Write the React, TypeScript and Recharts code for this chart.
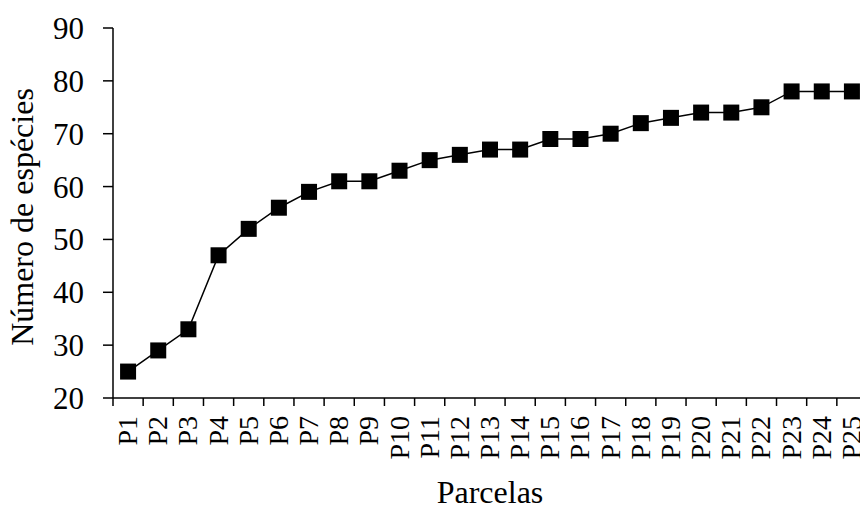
import { LineChart, Line, XAxis, YAxis } from 'recharts';

// Curva espécie-área: número acumulado de espécies por parcela
const parcelas = [
  'P1', 'P2', 'P3', 'P4', 'P5', 'P6', 'P7', 'P8', 'P9', 'P10',
  'P11', 'P12', 'P13', 'P14', 'P15', 'P16', 'P17', 'P18', 'P19', 'P20',
  'P21', 'P22', 'P23', 'P24', 'P25',
];
const especies = [
  25, 29, 33, 47, 52, 56, 59, 61, 61, 63,
  65, 66, 67, 67, 69, 69, 70, 72, 73, 74,
  74, 75, 78, 78, 78,
];
const yTicks = [20, 30, 40, 50, 60, 70, 80, 90];

const data = parcelas.map((p, i) => ({ parcela: p, especies: especies[i] }));

const FONT = '"Liberation Serif", "Times New Roman", serif';
const CHART_W = 867;
const CHART_H = 507;
const Y_AXIS_W = 113;
const BAND = (CHART_W - Y_AXIS_W) / parcelas.length;

// Excel-style ticks: marks between categories, labels rotated
function ParcelaTick(props: any) {
  const { x, y, payload, index } = props;
  const half = BAND / 2;
  const bx = x + 9;
  const ty = y + 18;
  return (
    <g>
      <line x1={x - half} x2={x - half} y1={y} y2={y + 8} stroke="#000" strokeWidth={1.5} />
      {index === parcelas.length - 1 && (
        <line x1={x + half} x2={x + half} y1={y} y2={y + 8} stroke="#000" strokeWidth={1.5} />
      )}
      <text
        x={bx}
        y={ty}
        transform={`rotate(-90, ${bx}, ${ty})`}
        textAnchor="end"
        fontFamily={FONT}
        fontSize={28}
        fill="#000"
      >
        {payload.value}
      </text>
    </g>
  );
}

function SquareDot(props: any) {
  const { cx, cy, index } = props;
  if (cx == null || cy == null) return null;
  return <rect key={`sq-${index}`} x={cx - 8} y={cy - 8} width={16} height={16} fill="#000" />;
}

export default function App() {
  return (
    <div style={{ position: 'absolute', left: 0, top: 0, width: 860, height: 507, overflow: 'hidden', background: '#fff' }}>
      <LineChart
        width={CHART_W}
        height={CHART_H}
        data={data}
        margin={{ top: 28, right: 0, bottom: 0, left: 0 }}
      >
        <XAxis
          dataKey="parcela"
          scale="band"
          interval={0}
          height={109}
          tickSize={0}
          tickMargin={0}
          tickLine={false}
          axisLine={{ stroke: '#000', strokeWidth: 1.5 }}
          tick={<ParcelaTick />}
          label={{
            content: (p: any) => {
              const vb = p.viewBox;
              return (
                <text
                  x={vb.x + vb.width / 2}
                  y={503}
                  textAnchor="middle"
                  fontFamily={FONT}
                  fontSize={32}
                  fill="#000"
                >
                  Parcelas
                </text>
              );
            },
          }}
        />
        <YAxis
          domain={[20, 90]}
          ticks={yTicks}
          width={Y_AXIS_W}
          tickSize={10}
          tickMargin={19}
          tickLine={{ stroke: '#000', strokeWidth: 1.5 }}
          axisLine={{ stroke: '#000', strokeWidth: 1.5 }}
          tick={{ fill: '#000', fontSize: 31, fontFamily: FONT }}
          label={{
            content: (p: any) => {
              const vb = p.viewBox;
              const cy = vb.y + vb.height / 2 + 4;
              return (
                <text
                  x={33}
                  y={cy}
                  transform={`rotate(-90, 33, ${cy})`}
                  textAnchor="middle"
                  fontFamily={FONT}
                  fontSize={32}
                  fill="#000"
                >
                  Número de espécies
                </text>
              );
            },
          }}
        />
        <Line
          type="linear"
          dataKey="especies"
          stroke="#000"
          strokeWidth={1.5}
          dot={SquareDot}
          activeDot={false}
          isAnimationActive={false}
        />
      </LineChart>
    </div>
  );
}
